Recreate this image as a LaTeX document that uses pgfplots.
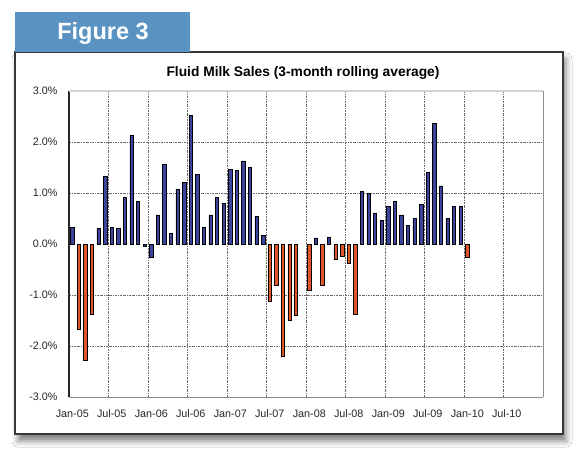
\documentclass[border=0pt]{standalone}
\usepackage{pgfplots}
\pgfplotsset{compat=1.18}
\usepackage{fontspec}
\setmainfont{Liberation Sans}
\usetikzlibrary{shadows.blur}

\definecolor{tabblue}{RGB}{90,146,194}
\definecolor{barblue}{RGB}{60,68,158}
\definecolor{barred}{RGB}{222,86,42}
\definecolor{gridgray}{RGB}{105,105,105}
\definecolor{framegray}{RGB}{55,55,55}

\begin{document}
\begin{tikzpicture}
  % page
  \path[fill=white, use as bounding box] (0pt,0pt) rectangle (575pt,461pt);
  % outer frame with soft shadow
  \fill[white, blur shadow={shadow xshift=3pt, shadow yshift=-7pt, shadow blur radius=6pt, shadow opacity=50}]
    (15pt,27pt) rectangle (563pt,409pt);
  \draw[framegray, line width=1.4pt] (15pt,27pt) rectangle (563pt,409pt);
  % figure tab
  \fill[tabblue] (15pt,409pt) rectangle (190pt,449pt);
  \node[text=white, font=\fontsize{23.5}{26}\selectfont\bfseries, anchor=base] at (103pt,421pt) {Figure 3};
  % chart title
  \node[font=\fontsize{13.8}{16}\selectfont\bfseries, anchor=base] at (303pt,384pt) {Fluid Milk Sales (3-month rolling average)};

  \begin{axis}[
    at={(69pt,64pt)}, anchor=south west,
    scale only axis, width=474pt, height=306pt,
    xmin=0, xmax=72, ymin=-3, ymax=3,
    ybar, bar width=3.3pt,
    axis line style={draw=none},
    xtick={0.5,6.5,...,66.5},
    xticklabels={Jan-05,Jul-05,Jan-06,Jul-06,Jan-07,Jul-07,Jan-08,Jul-08,Jan-09,Jul-09,Jan-10,Jul-10},
    extra x ticks={6,12,...,66},
    extra x tick labels={},
    extra x tick style={grid=major, major tick length=0pt},
    ytick={-3,-2,...,3},
    extra y ticks={-2,-1,1,2},
    extra y tick labels={},
    extra y tick style={grid=major, major tick length=0pt},
    major tick length=0pt,
    major grid style={gridgray, line width=0.55pt, dash pattern=on 2pt off 1pt on 0.6pt off 1pt},
    /pgf/number format/assume math mode=true,
    yticklabel={\pgfmathprintnumber[fixed,fixed zerofill,precision=1]{\tick}\%},
    ticklabel style={font=\fontsize{10.8}{12}\selectfont, text=black!85},
    yticklabel style={xshift=-8pt},
    xticklabel style={yshift=-9pt},
    clip=false,
  ]
    % positive-side series (and the two small January 2006 values)
    \addplot[bar shift=0pt, fill=barblue, draw=black, line width=0.7pt] coordinates {
      (0.5,0.33) (4.5,0.31) (5.5,1.33) (6.5,0.33) (7.5,0.31) (8.5,0.91)
      (9.5,2.13) (10.5,0.84) (11.5,-0.05) (12.5,-0.27) (13.5,0.57) (14.5,1.56)
      (15.5,0.20) (16.5,1.08) (17.5,1.20) (18.5,2.52) (19.5,1.36) (20.5,0.33)
      (21.5,0.57) (22.5,0.91) (23.5,0.80) (24.5,1.46) (25.5,1.44) (26.5,1.63)
      (27.5,1.50) (28.5,0.54) (29.5,0.17) (37.5,0.12) (39.5,0.14)
      (44.5,1.03) (45.5,1.00) (46.5,0.61) (47.5,0.47) (48.5,0.73) (49.5,0.84)
      (50.5,0.57) (51.5,0.36) (52.5,0.50) (53.5,0.77) (54.5,1.40) (55.5,2.37)
      (56.5,1.14) (57.5,0.50) (58.5,0.73) (59.5,0.73)
    };
    % declines
    \addplot[bar shift=0pt, fill=barred, draw=black, line width=0.7pt] coordinates {
      (1.5,-1.68) (2.5,-2.29) (3.5,-1.37)
      (30.5,-1.12) (31.5,-0.81) (32.5,-2.20) (33.5,-1.50) (34.5,-1.39)
      (36.5,-0.91) (38.5,-0.81) (40.5,-0.31) (41.5,-0.24) (42.5,-0.37)
      (43.5,-1.37) (60.5,-0.27)
    };
    % plot-area border
    \draw[black!85, line width=1.2pt] (rel axis cs:0,0) -- (rel axis cs:0,1);
    \draw[black!45, line width=0.8pt] (rel axis cs:0,0) -- (rel axis cs:1,0);
    \draw[black!45, line width=0.8pt] (rel axis cs:1,0) -- (rel axis cs:1,1);
    \draw[black!18, line width=2pt] (rel axis cs:0,1) -- (rel axis cs:1,1);
  \end{axis}
\end{tikzpicture}
\end{document}
